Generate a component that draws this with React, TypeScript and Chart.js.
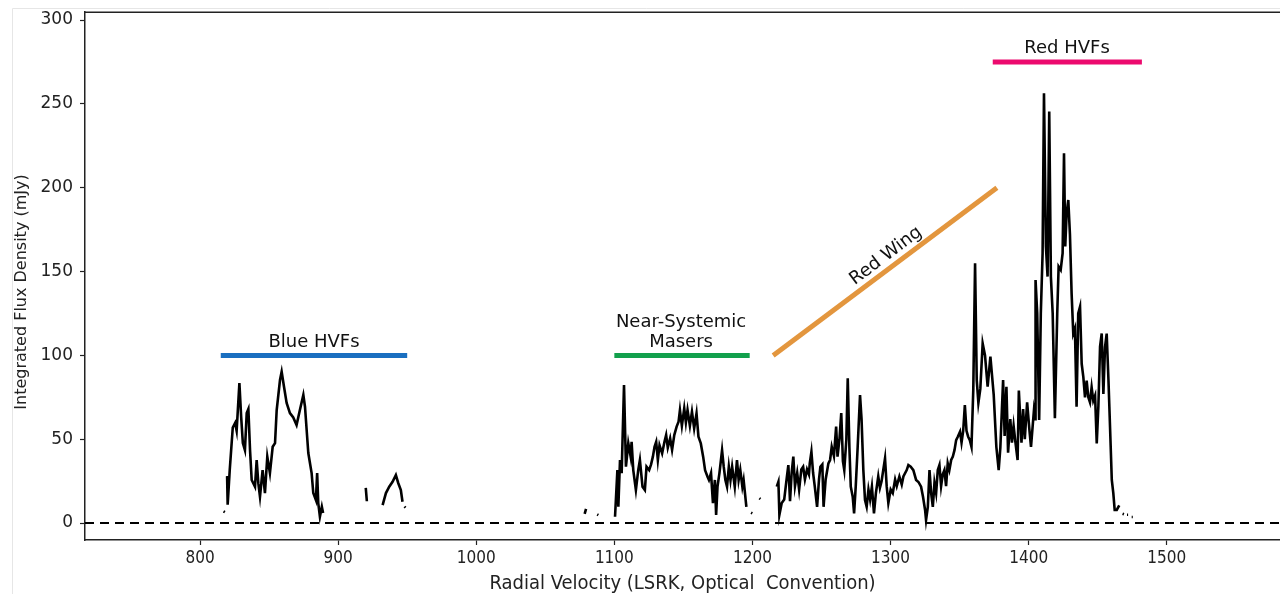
import { useEffect, useRef } from "react";
import { Chart, registerables } from "chart.js";

Chart.register(...registerables);

// Radial velocity (km/s) and integrated flux density (mJy); null = blanked channel (gap)
const VELOCITY: number[] = [
  817.0, 818.0, 818.5,
  819.6, 820.0, 821.5, 823.7, 825.4, 826.5, 828.5, 829.8, 831.0, 832.5, 833.8, 835.0, 836.2, 837.4, 839.8,
  841.0, 842.2, 843.4, 845.3, 847.0, 848.7, 850.6, 852.6, 854.3, 855.5, 857.9, 859.1, 860.8, 862.7, 865.1,
  867.5, 869.9, 872.3, 874.8, 876.0, 877.2, 878.4, 880.8, 882.0, 883.9, 884.8, 885.6, 886.8, 888.2, 889.1, 900,
  920.0, 920.8, 926,
  932.2, 934.6, 937.0, 939.4, 941.8, 943.5, 945.4, 946.6, 947.3,
  948.0, 948.8, 1000,
  1078.5, 1079.5, 1083,
  1087.6, 1088.4, 1095,
  1100.5, 1102.2, 1102.9, 1104.1, 1105.3, 1107.0, 1108.4, 1110.1, 1111.8, 1112.5, 1113.7, 1115.6, 1117.3,
  1118.5, 1120.4, 1122.1, 1123.3, 1125.2, 1126.6, 1127.9, 1129.1, 1130.3, 1131.5, 1132.7, 1134.6, 1136.3,
  1137.5, 1138.7, 1140.4, 1141.8, 1143.4, 1145.1, 1146.5, 1147.5, 1148.9, 1150.6, 1151.8, 1153.0, 1154.7,
  1156.2, 1157.8, 1159.5, 1160.9, 1162.6, 1164.3, 1165.7, 1167.4, 1168.5, 1170.0, 1171.4, 1172.8, 1173.7,
  1174.7, 1176.1, 1178.0, 1179.2, 1180.4, 1181.6, 1182.9, 1184.1, 1185.3, 1187.2, 1188.8, 1190.0, 1191.2,
  1192.7, 1193.6, 1195.6, 1197,
  1199.0, 1199.9, 1202,
  1205.0, 1205.8, 1210,
  1217.6, 1218.8, 1219.5, 1221.2, 1223.0, 1224.8, 1226.0, 1227.2, 1228.4, 1229.6, 1230.8, 1232.4, 1233.8,
  1235.4, 1236.7, 1238.0, 1239.5, 1240.9, 1241.5, 1242.7, 1243.9, 1245.1, 1246.8, 1248.2, 1249.2, 1250.6,
  1251.5, 1253.0, 1255.0, 1256.2, 1257.4, 1259.0, 1260.6, 1261.6, 1263.0, 1264.3, 1265.5, 1266.5, 1268.0,
  1269.0, 1270.2, 1271.2, 1272.6, 1273.6, 1274.8, 1276.2, 1277.9, 1279.0, 1280.3, 1281.5, 1282.7, 1284.0,
  1285.2, 1286.5, 1288.0, 1289.4, 1291.1, 1292.3, 1293.5, 1294.7, 1296.0, 1297.2, 1298.4, 1300.1, 1301.6,
  1303.3, 1304.5, 1306.4, 1308.1, 1309.3, 1311.7, 1312.9, 1314.6, 1316.5, 1318.5, 1320.2, 1322.1, 1323.5,
  1325.0, 1325.7, 1327.0, 1328.2, 1329.4, 1330.6, 1331.8, 1333.0, 1334.2, 1335.4, 1336.6, 1337.8, 1339.0,
  1340.2, 1341.4, 1342.6, 1343.9, 1345.1, 1346.3, 1347.5, 1348.7, 1350.3, 1351.4, 1352.6, 1353.8, 1355.0,
  1356.2, 1357.4, 1358.6, 1359.9, 1361.2, 1362.4, 1363.6, 1365.0, 1366.7, 1368.4, 1370.3, 1372.3, 1374.7,
  1376.6, 1378.3, 1379.5, 1381.5, 1382.6, 1383.9, 1385.1, 1386.7, 1387.9, 1389.1, 1390.3, 1392.0, 1392.9,
  1394.8, 1396.0, 1397.2, 1398.9, 1400.5, 1401.7, 1403.8, 1404.6, 1405.0, 1406.2, 1407.6, 1408.8, 1410.1,
  1411.1, 1412.5, 1413.7, 1414.9, 1416.1, 1417.4, 1419.0, 1420.7, 1421.7, 1423.2, 1424.6, 1425.6, 1426.5,
  1427.5, 1428.7, 1429.9, 1431.1, 1432.3, 1433.5, 1434.7, 1435.9, 1437.2, 1438.4, 1439.6, 1440.8, 1442.0,
  1443.2, 1444.4, 1445.6, 1446.8, 1448.1, 1449.3, 1450.5, 1451.7, 1452.9, 1454.1, 1455.3, 1456.5, 1457.8,
  1459.0, 1460.2, 1461.3, 1462.3, 1463.8, 1465.6, 1466.8,
  1468.0, 1469.0, 1470,
  1471.2, 1472.0, 1473,
  1474.6, 1475.4, 1476.5,
  1477.8, 1478.4, 1479,
];

const FLUX: (number | null)[] = [
  7.0, 6.5, null,
  28, 11, 31.6, 57, 59.7, 55, 83.5, 63, 47.7, 43.5, 65.6, 68, 43.5, 25.7, 21.7,
  37.6, 23.8, 15.7, 31.6, 17.9, 39.6, 29.8, 45.5, 47.7, 67.4, 85.3, 90.3, 81.3, 71.6, 65.6,
  63, 58.5, 67.4, 76.4, 69.4, 55.5, 41.8, 29.8, 17.9, 13.7, 29.8, 11.9, 3.8, 9.7, 6.0, null,
  21, 13, null,
  10.7, 17.9, 21.7, 24.6, 28.6, 23.9, 19.7, 12.7, null,
  9.8, 9.2, null,
  5.5, 8.5, null,
  5.2, 4.8, null,
  3.8, 31.6, 9.7, 37.6, 29.8, 82.3, 33.6, 47.7, 39.6, 48.5, 31.6, 19.7, 31.6,
  37.6, 21.7, 19.7, 33.6, 31.6, 35, 39.6, 45.5, 48.5, 37.6, 46.5, 41.6, 48.5,
  52.5, 45, 50.5, 43.6, 52.5, 57.5, 60.5, 67.4, 58, 68.4, 60, 67.4, 58,
  66.4, 56.5, 65.4, 51.5, 47.5, 39.6, 31.6, 27.8, 25.7, 29.8, 11.9, 25.7, 4.8,
  21.7, 29.8, 43.5, 33.6, 25.7, 21.7, 33.6, 25.7, 33.6, 21.7, 37.6, 25.7, 31.6,
  21.7, 25.7, 9.7, null,
  6.2, 5.8, null,
  14.8, 14.3, null,
  21.7, 24.6, 4.8, 11.9, 14, 26.7, 34.6, 13, 30, 39.6, 22, 30, 20,
  32, 33.6, 26, 32, 29, 35.6, 42.5, 30, 22, 9.7, 26, 33.6, 35,
  9.7, 26, 35.6, 37.6, 45.5, 40, 57.5, 39.6, 50, 65.6, 37, 31.6, 50,
  86.3, 45, 21.7, 15.7, 5.8, 22, 45.5, 76.4, 62, 31.6, 13.7, 9.7, 20,
  14, 21.7, 5.8, 18, 27.8, 21, 25, 31.6, 38.6, 22, 11.9, 20, 17.9,
  26, 22, 27.8, 23, 27.8, 31.6, 34.6, 33.6, 31.6, 25.7, 24.5, 21.7, 15.7,
  7.8, 1.8, 9.7, 31.6, 17.9, 9.7, 24, 18, 31.6, 34.6, 22, 29, 31.6,
  22, 35.6, 31.6, 37.6, 39.6, 43.5, 49.5, 51.5, 54.5, 48, 55, 70.4, 55,
  51.5, 49.5, 45.5, 79.3, 154.9, 85.3, 71.6, 80, 107.2, 100, 81.3, 99.2, 76.4,
  45.5, 31.6, 45, 85.3, 52, 81.3, 42, 62, 48, 58, 49, 37.6, 79,
  48, 68, 50, 72, 56, 45.5, 67, 62, 145, 125, 61.5, 125, 161,
  256.4, 165, 147, 245.4, 147, 125, 62.5, 125, 153, 151, 161, 220.6, 165,
  184.8, 192.7, 172, 137, 113, 116, 69.4, 125, 129, 95, 87, 75, 85,
  75, 72, 81, 73, 76, 47.5, 70, 105.2, 113.1, 77, 105, 113, 85,
  55.5, 25.7, 17.9, 7.8, 7.8, 10.5, null,
  5.5, 5.2, null,
  5.0, 5.0, null,
  3.6, 3.6, null,
  9.5, 9.5, null,
];

const X_MIN = 716.7;
const X_MAX = 1582;
const Y_MIN = -10.1;
const Y_MAX = 304.8;
const X_TICKS = [800, 900, 1000, 1100, 1200, 1300, 1400, 1500];
const Y_TICKS = [0, 50, 100, 150, 200, 250, 300];
const X_TITLE = "Radial Velocity (LSRK, Optical  Convention)";
const Y_TITLE = "Integrated Flux Density (mJy)";

// Feature marker bars
const BAND_X0 = [815, 1100, 1215, 1374];
const BAND_X1 = [950, 1198, 1377, 1482];
const BAND_Y0 = [100, 100, 100, 275];
const BAND_Y1 = [100, 100, 200, 275];
const BAND_COLORS = ["#1a6fc0", "#12a04c", "#e3963e", "#ec0a6e"];

// Feature labels
const LABEL_LINES = [["Blue HVFs"], ["Near-Systemic", "Masers"], ["Red Wing"], ["Red HVFs"]];
const LABEL_X = [882.5, 1148.3, 1296.7, 1427.8];
const LABEL_Y = [108, 120, 159.3, 283.4];
const LABEL_ROT = [0, 0, -37, 0];

const SANS = "'DejaVu Sans', 'Noto Sans', sans-serif";
const COND = "'DejaVu Sans Condensed', 'Liberation Sans Narrow', 'DejaVu Sans', sans-serif";

const framePlugin = {
  id: "frame",
  beforeDraw(chart: any) {
    const { ctx } = chart;
    ctx.save();
    ctx.strokeStyle = "#e6e6e6";
    ctx.lineWidth = 1;
    ctx.beginPath();
    ctx.moveTo(12.5, 594);
    ctx.lineTo(12.5, 8.5);
    ctx.lineTo(1280, 8.5);
    ctx.stroke();
    ctx.restore();
  },
  afterDraw(chart: any) {
    const { ctx, chartArea } = chart;
    ctx.save();
    ctx.strokeStyle = "#222";
    ctx.lineWidth = 1.5;
    ctx.beginPath();
    ctx.moveTo(chartArea.left, chartArea.top + 0.25);
    ctx.lineTo(chartArea.right, chartArea.top + 0.25);
    ctx.stroke();
    // y-axis title
    ctx.font = `16px ${SANS}`;
    ctx.fillStyle = "#222";
    ctx.textAlign = "center";
    ctx.textBaseline = "middle";
    ctx.translate(22, 292);
    ctx.rotate(-Math.PI / 2);
    ctx.fillText(Y_TITLE, 0, 0);
    ctx.restore();
  },
};

const labelPlugin = {
  id: "featureLabels",
  afterDatasetsDraw(chart: any) {
    const { ctx } = chart;
    const xs = chart.scales.x;
    const ys = chart.scales.y;
    ctx.save();
    ctx.font = `18px ${SANS}`;
    ctx.fillStyle = "#111";
    ctx.textAlign = "center";
    ctx.textBaseline = "middle";
    LABEL_LINES.forEach((lines, i) => {
      const px = xs.getPixelForValue(LABEL_X[i]);
      const py = ys.getPixelForValue(LABEL_Y[i]);
      ctx.save();
      ctx.translate(px, py);
      ctx.rotate((LABEL_ROT[i] * Math.PI) / 180);
      lines.forEach((t, j) => ctx.fillText(t, 0, j * 20));
      ctx.restore();
    });
    ctx.restore();
  },
};

export default function App() {
  const ref = useRef<HTMLCanvasElement | null>(null);

  useEffect(() => {
    if (!ref.current) return;
    const spectrum = VELOCITY.map((v, i) => ({ x: v, y: FLUX[i] }));
    const bands = BAND_X0.map((x0, i) => ({
      data: [
        { x: x0, y: BAND_Y0[i] },
        { x: BAND_X1[i], y: BAND_Y1[i] },
      ],
      borderColor: BAND_COLORS[i],
      borderWidth: 5,
      borderCapStyle: "butt" as const,
      pointRadius: 0,
      tension: 0,
      order: 1,
    }));
    const chart = new Chart(ref.current, {
      type: "line",
      data: {
        datasets: [
          {
            data: [
              { x: X_MIN, y: 0 },
              { x: X_MAX, y: 0 },
            ],
            borderColor: "#000",
            borderWidth: 2,
            borderDash: [9, 6],
            pointRadius: 0,
            order: 3,
          },
          {
            data: spectrum,
            borderColor: "#000",
            borderWidth: 2.6,
            pointRadius: 0,
            tension: 0,
            spanGaps: false,
            order: 2,
          } as any,
          ...bands,
        ],
      },
      options: {
        animation: false,
        responsive: false,
        layout: { padding: { left: 0, top: 12, right: 0, bottom: 0 } },
        plugins: { legend: { display: false }, tooltip: { enabled: false } },
        scales: {
          x: {
            type: "linear",
            min: X_MIN,
            max: X_MAX,
            afterBuildTicks: (s: any) => {
              s.ticks = X_TICKS.map((v) => ({ value: v }));
            },
            afterFit: (s: any) => {
              s.height = 54;
              s.paddingLeft = 0;
              s.paddingRight = 0;
            },
            grid: { display: true, drawOnChartArea: false, drawTicks: true, tickLength: 5, color: "#222", tickWidth: 1.2 },
            border: { display: true, color: "#222", width: 1.5 },
            ticks: {
              color: "#222",
              font: { family: COND, size: 17 },
              padding: 3,
              maxRotation: 0,
              autoSkip: false,
              callback: (v: any) => String(v),
            },
            title: {
              display: true,
              text: X_TITLE,
              color: "#222",
              font: { family: COND, size: 20, lineHeight: 1 },
              padding: { top: 0, bottom: 0 },
            },
          },
          y: {
            type: "linear",
            min: Y_MIN,
            max: Y_MAX,
            afterBuildTicks: (s: any) => {
              s.ticks = Y_TICKS.map((v) => ({ value: v }));
            },
            afterFit: (s: any) => {
              s.width = 85;
              s.paddingTop = 0;
              s.paddingBottom = 0;
            },
            grid: { display: true, drawOnChartArea: false, drawTicks: true, tickLength: 5, color: "#222", tickWidth: 1.2 },
            border: { display: true, color: "#222", width: 1.5 },
            ticks: {
              color: "#222",
              font: { family: SANS, size: 17 },
              padding: 7,
              autoSkip: false,
              callback: (v: any) => String(v),
            },
            title: { display: false },
          },
        },
      },
      plugins: [framePlugin, labelPlugin],
    });
    return () => chart.destroy();
  }, []);

  return (
    <div style={{ position: "absolute", left: 0, top: 0, width: 1280, height: 594, background: "#fff" }}>
      <canvas ref={ref} width={1280} height={594} style={{ display: "block" }} />
    </div>
  );
}
